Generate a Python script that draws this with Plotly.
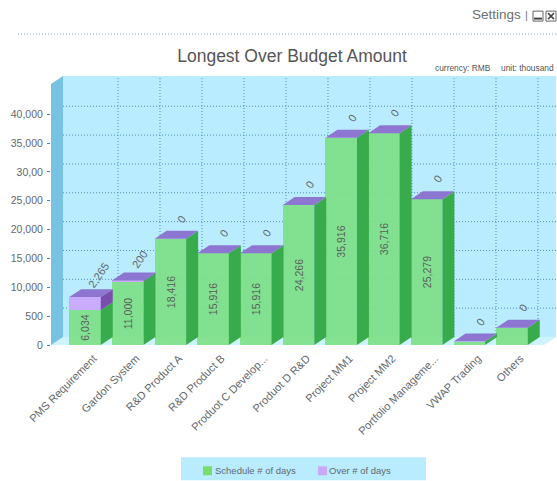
import plotly.graph_objects as go

categories = ["PMS Requirement", "Gardon System", "R&D Product A", "R&D Product B",
              "Produot C Develop...", "Produot D R&D", "Project MM1", "Project MM2",
              "Portfolio Manageme...", "VWAP Trading", "Others"]
schedule = [6034, 11000, 18416, 15916, 15916, 24266, 35916, 36716, 25279, 600, 3000]
over = [2265, 200, 0, 0, 0, 0, 0, 0, 0, 0, 0]
schedule_labels = ["6,034", "11,000", "18,416", "15,916", "15,916", "24,266", "35,916", "36,716", "25,279", "", ""]
over_labels = ["2,265", "200", "0", "0", "0", "0", "0", "0", "0", "0", "0"]
y_tickvals = [0, 5000, 10000, 15000, 20000, 25000, 30000, 35000, 40000]
y_ticktext = ["0", "500", "10,000", "15,000", "20,000", "25,000", "30,00", "35,000", "40,000"]
series_names = ["Schedule # of days", "Over # of days"]
series_colors = ["#77dd6d", "#c9a9f5"]

W, H = 557, 481
L, R_PX, T, B_PX = 51, 556, 76, 345.5
CAT_PX, FIRST_PX = 42.7, 85
UNIT_PX = 28.9 / 5000
DX, DY = 12 / CAT_PX, 8 / UNIT_PX
BW = 31.5 / CAT_PX
x0 = (L - FIRST_PX) / CAT_PX
x1 = (R_PX - FIRST_PX) / CAT_PX
ymax = (B_PX - T) / UNIT_PX
n = len(categories)
xs = list(range(n))
FONT = "Liberation Sans, Arial, sans-serif"
TXT = "#63686c"
WALL, SIDEWALL, FLOOR = "#b9ecfe", "#78c2e3", "#cdf4fc"
GRID = "#4f8fb5"

fig = go.Figure()
fig.add_bar(x=xs, y=schedule, width=BW, name=series_names[0], showlegend=False,
            marker=dict(color="#7ee089", opacity=0.93, line=dict(width=0)),
            text=schedule_labels, textposition="inside", textangle=-90,
            insidetextanchor="middle", constraintext="none",
            textfont=dict(family=FONT, size=10.5, color="#5a5f5c"))
fig.add_bar(x=xs, y=over, width=BW, name=series_names[1], showlegend=False,
            marker=dict(color="#c9a9fb", opacity=0.95, line=dict(width=0)))


def poly(px, py, color, opacity=1.0):
    fig.add_scatter(x=px, y=py, mode="lines", fill="toself", fillcolor=color,
                    line=dict(width=0), opacity=opacity, showlegend=False, hoverinfo="skip")


for i in range(n):
    a, b = i - BW / 2, i + BW / 2
    s, t = schedule[i], schedule[i] + over[i]
    poly([b, b + DX, b + DX, b], [0, DY, s + DY, s], "#38ab4c")
    if over[i] > 0:
        poly([b, b + DX, b + DX, b], [s, s + DY, t + DY, t], "#7a4fab")
    poly([a, b, b + DX, a + DX], [t, t, t + DY, t + DY], "#8b72cf", 0.97)

DOT = "1px,2px"
shapes = [
    dict(type="rect", xref="x", yref="y", x0=x0 + DX, x1=x1, y0=DY, y1=ymax, fillcolor=WALL, line_width=0, layer="below"),
    dict(type="path", xref="x", yref="y", layer="below", fillcolor=FLOOR, line_width=0,
         path=f"M{x0},0 L{x0 + DX},{DY} L{x1},{DY} L{x1 - DX},0 Z"),
    dict(type="path", xref="x", yref="y", layer="below", fillcolor=SIDEWALL, line_width=0,
         path=f"M{x0},0 L{x0 + DX},{DY} L{x0 + DX},{ymax} L{x0},{ymax - DY} Z"),
]
for v in y_tickvals[1:]:
    shapes.append(dict(type="line", xref="x", yref="y", x0=x0 + DX, x1=x1, y0=v + DY, y1=v + DY,
                       layer="below", line=dict(color=GRID, width=1, dash=DOT)))
GRID_STEP = 42 / CAT_PX
for k in range(n):
    gx = (118 - FIRST_PX) / CAT_PX + k * GRID_STEP
    shapes.append(dict(type="line", xref="x", yref="y", x0=gx, x1=gx, y0=DY, y1=ymax,
                       layer="below", line=dict(color=GRID, width=1, dash=DOT)))


def pxx(p):
    return (p - L) / (R_PX - L)


def pxy(p):
    return (B_PX - p) / (B_PX - T)


def box(xa, xb, ya, yb, **kw):
    return dict(type="rect", xref="paper", yref="paper", x0=pxx(xa), x1=pxx(xb), y0=pxy(ya), y1=pxy(yb), **kw)


def seg(xa, ya, xb, yb, **line):
    return dict(type="line", xref="paper", yref="paper", x0=pxx(xa), x1=pxx(xb), y0=pxy(ya), y1=pxy(yb), line=line)


shapes.append(seg(18, 34, 556, 34, color="#7fb2c9", width=1, dash=DOT))
shapes.append(box(181, 426, 458, 481, fillcolor=WALL, line_width=0, layer="below"))
shapes.append(box(203, 212, 467, 476, fillcolor=series_colors[0], line_width=0))
shapes.append(box(318, 327, 467, 476, fillcolor=series_colors[1], line_width=0))
for bx in (533, 546):
    shapes.append(box(bx, bx + 10, 11, 21, line=dict(color="#666", width=1), fillcolor="white"))
shapes.append(seg(534, 18.5, 542, 18.5, color="#444", width=2))
shapes.append(seg(548, 13, 554, 19, color="#444", width=1.5))
shapes.append(seg(548, 19, 554, 13, color="#444", width=1.5))

annotations = []
for i, lab in enumerate(over_labels):
    m = len(lab) - 1
    annotations.append(dict(x=i, y=schedule[i] + over[i], xref="x", yref="y", text=lab, showarrow=False,
                            textangle=-55, xshift=11 + 0.7 * m, yshift=20 + 0.5 * m,
                            font=dict(family=FONT, size=11, color=TXT)))


def note(text, px_x, px_y, size, anchor="center", color=TXT):
    annotations.append(dict(x=pxx(px_x), y=pxy(px_y), xref="paper", yref="paper", text=text, showarrow=False,
                            xanchor=anchor, yanchor="middle", font=dict(family=FONT, size=size, color=color)))


note("Settings", 470, 14, 13.5, "left", "#6b6f72")
note("|", 526, 15, 11, "center", "#6b6f72")
note("currency: RMB", 433, 68, 8.4, "left", "#555")
note("unit: thousand", 499, 68, 8.4, "left", "#555")
note(series_names[0], 213, 471.5, 9.5, "left")
note(series_names[1], 327, 471.5, 9.5, "left")

fig.update_layout(
    width=W, height=H, autosize=False, showlegend=False,
    margin=dict(l=L, r=W - R_PX, t=T, b=H - B_PX, pad=0),
    paper_bgcolor="white", plot_bgcolor="white",
    barmode="stack", bargap=0,
    title=dict(text="Longest Over Budget Amount", x=292 / W, xanchor="center", y=1 - 56 / H, yanchor="middle",
               font=dict(family=FONT, size=17.5, color="#555")),
    shapes=shapes, annotations=annotations,
    font=dict(family=FONT),
)
fig.update_xaxes(range=[x0, x1], tickmode="array", tickvals=[i + 0.2 for i in xs], ticktext=categories,
                 tickangle=-45, ticks="", showgrid=False, zeroline=False, showline=False, automargin=False,
                 ticklabelstandoff=4, tickfont=dict(family=FONT, size=11, color=TXT))
fig.update_yaxes(range=[0, ymax], tickmode="array", tickvals=y_tickvals, ticktext=y_ticktext,
                 ticks="outside", ticklen=3, tickcolor="#3f88ad", showgrid=False, zeroline=False, showline=False,
                 automargin=False, ticklabelstandoff=2, tickfont=dict(family=FONT, size=10.5, color=TXT))

fig.write_html("out.html", post_script="document.body.style.margin='0';", config={"displayModeBar": False})
